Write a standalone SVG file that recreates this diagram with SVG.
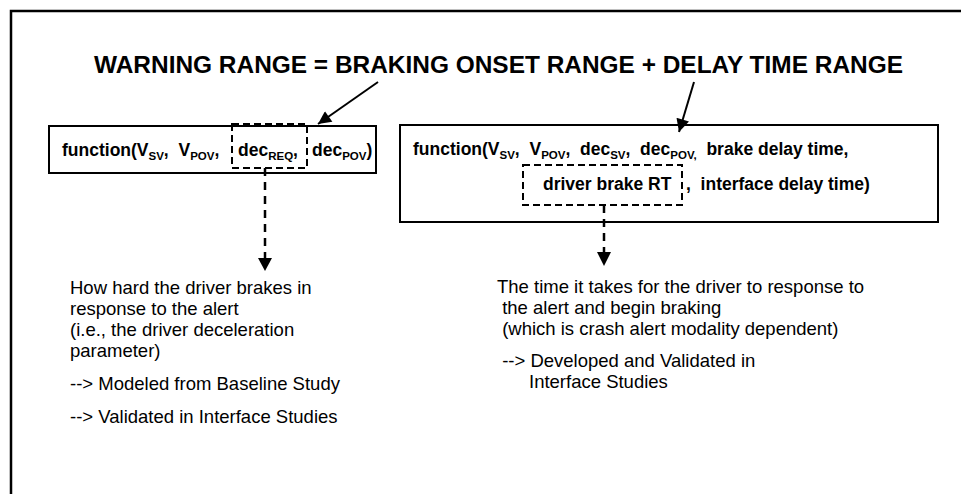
<svg xmlns="http://www.w3.org/2000/svg" width="961" height="494" viewBox="0 0 961 494">
  <style>
    text { white-space: pre; }
    .frame { fill: none; stroke: #000; stroke-width: 2.5; }
    .box { fill: #fff; stroke: #000; stroke-width: 2; }
    .dash { fill: none; stroke: #000; stroke-width: 2; stroke-dasharray: 7 4; }
    .conn { fill: none; stroke: #000; stroke-width: 2; }
    .vdash { fill: none; stroke: #000; stroke-width: 2.5; stroke-dasharray: 8 6; }
    .title { font-family: "Liberation Sans", Arial, sans-serif; font-weight: bold; font-size: 24px; fill: #000; }
    .fn { font-family: "Liberation Sans", Arial, sans-serif; font-weight: bold; font-size: 17.5px; fill: #000; }
    .sub { font-size: 11.5px; }
    .desc { font-family: "Liberation Sans", Arial, sans-serif; font-size: 18.5px; fill: #000; }
  </style>
  <defs>
    <marker id="arrow" viewBox="0 0 10 10" refX="10" refY="5" markerWidth="15" markerHeight="13" markerUnits="userSpaceOnUse" orient="auto">
      <path d="M0,0 L10,5 L0,10 z" fill="#000"/>
    </marker>
  </defs>

  <rect width="961" height="494" fill="#fff"/>
  <path class="frame" d="M11,494 V11 H961"/>

  <g id="title">
    <text class="title" x="94" y="73" textLength="809" lengthAdjust="spacingAndGlyphs" xml:space="preserve">WARNING RANGE = BRAKING ONSET RANGE + DELAY TIME RANGE</text>
  </g>

  <g id="braking-onset">
    <rect class="box" x="49" y="126" width="327" height="47"/>
    <text class="fn" x="62" y="156" xml:space="preserve">function(V<tspan class="sub" dy="4">SV</tspan><tspan dy="-4">,  V</tspan><tspan class="sub" dy="4">POV</tspan><tspan dy="-4">,</tspan><tspan x="238">dec</tspan><tspan class="sub" dy="4">REQ</tspan><tspan dy="-4">,</tspan><tspan x="312">dec</tspan><tspan class="sub" dy="4">POV</tspan><tspan dy="-4">)</tspan></text>
    <rect class="dash" x="232" y="124" width="75" height="44"/>
  </g>

  <g id="delay-time">
    <rect class="box" x="400" y="125" width="538" height="97"/>
    <text class="fn" x="413" y="155" xml:space="preserve">function(V<tspan class="sub" dy="4">SV</tspan><tspan dy="-4">,  V</tspan><tspan class="sub" dy="4">POV</tspan><tspan dy="-4">,  dec</tspan><tspan class="sub" dy="4">SV</tspan><tspan dy="-4">,  dec</tspan><tspan class="sub" dy="4">POV,</tspan><tspan dy="-4">  brake delay time,</tspan></text>
    <text class="fn" x="543" y="190" xml:space="preserve">driver brake RT<tspan x="686">,  interface delay time)</tspan></text>
    <rect class="dash" x="523" y="165" width="159" height="40"/>
  </g>

  <g id="decel-note">
    <text class="desc" x="70" y="294">How hard the driver brakes in</text>
    <text class="desc" x="70" y="315">response to the alert</text>
    <text class="desc" x="70" y="336">(i.e., the driver deceleration</text>
    <text class="desc" x="70" y="357">parameter)</text>
    <text class="desc" x="70" y="390">--&gt; Modeled from Baseline Study</text>
    <text class="desc" x="70" y="423">--&gt; Validated in Interface Studies</text>
  </g>

  <g id="rt-note">
    <text class="desc" x="497" y="293">The time it takes for the driver to response to</text>
    <text class="desc" x="497" y="314" xml:space="preserve"> the alert and begin braking</text>
    <text class="desc" x="497" y="335" xml:space="preserve"> (which is crash alert modality dependent)</text>
    <text class="desc" x="497" y="367" xml:space="preserve"> --&gt; Developed and Validated in</text>
    <text class="desc" x="529" y="388">Interface Studies</text>
  </g>

  <g id="connectors">
    <line class="conn" x1="378" y1="82" x2="318" y2="124" marker-end="url(#arrow)"/>
    <line class="conn" x1="694" y1="82" x2="679" y2="132" marker-end="url(#arrow)"/>
    <line class="vdash" x1="265" y1="168" x2="265" y2="258"/>
    <path d="M258,258 L272,258 L265,271 z" fill="#000"/>
    <line class="vdash" x1="604" y1="205" x2="604" y2="252"/>
    <path d="M597,252 L611,252 L604,266 z" fill="#000"/>
  </g>
</svg>
